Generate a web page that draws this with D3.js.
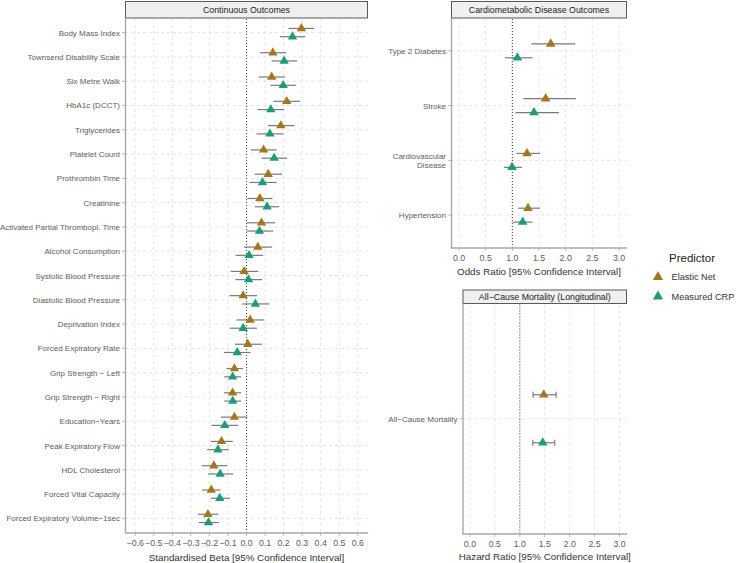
<!DOCTYPE html>
<html>
<head>
<meta charset="utf-8">
<script src="https://cdn.jsdelivr.net/npm/d3@7/dist/d3.min.js"></script>
<style>
  html, body { margin: 0; padding: 0; background: #fff; }
  svg { display: block; font-family: "Liberation Sans", Arial, sans-serif; }
</style>
</head>
<body>
<svg id="chart" width="739" height="563"></svg>
<script>
// ---------------- DATA ----------------
const predictors = ["Elastic Net", "Measured CRP"];
const predictorColors = ["#A6761D", "#1B9E77"];

const contOutcomes = [
  "Body Mass Index", "Townsend Disability Scale", "Six Metre Walk", "HbA1c (DCCT)",
  "Triglycerides", "Platelet Count", "Prothrombin Time", "Creatinine",
  "Activated Partial Thrombopl. Time", "Alcohol Consumption", "Systolic Blood Pressure",
  "Diastolic Blood Pressure", "Deprivation Index", "Forced Expiratory Rate",
  "Grip Strength \u2212 Left", "Grip Strength \u2212 Right", "Education\u2212Years",
  "Peak Expiratory Flow", "HDL Cholesterol", "Forced Vital Capacity",
  "Forced Expiratory Volume\u22121sec"
];
const contEN    = [0.296, 0.142, 0.136, 0.217, 0.185, 0.092, 0.117, 0.072, 0.081, 0.061, -0.013, -0.018, 0.020, 0.007, -0.065, -0.075, -0.065, -0.135, -0.176, -0.190, -0.208];
const contENLo  = [0.226, 0.072, 0.066, 0.145, 0.115, 0.023, 0.045, 0.004, 0.002, -0.014, -0.086, -0.092, -0.054, -0.063, -0.108, -0.122, -0.138, -0.192, -0.242, -0.239, -0.262];
const contENHi  = [0.365, 0.214, 0.208, 0.289, 0.259, 0.163, 0.192, 0.140, 0.154, 0.138, 0.063, 0.057, 0.093, 0.083, -0.018, -0.029, 0.005, -0.074, -0.104, -0.140, -0.153];
const contCRP   = [0.248, 0.203, 0.198, 0.131, 0.126, 0.149, 0.086, 0.111, 0.070, 0.014, 0.011, 0.048, -0.018, -0.050, -0.075, -0.074, -0.117, -0.154, -0.142, -0.144, -0.205];
const contCRPLo = [0.180, 0.135, 0.129, 0.059, 0.054, 0.081, 0.016, 0.045, 0.002, -0.059, -0.059, -0.023, -0.090, -0.122, -0.120, -0.120, -0.189, -0.212, -0.208, -0.192, -0.257];
const contCRPHi = [0.316, 0.273, 0.266, 0.203, 0.198, 0.219, 0.162, 0.176, 0.144, 0.090, 0.084, 0.122, 0.056, 0.022, -0.029, -0.029, -0.045, -0.095, -0.072, -0.090, -0.149];
const contTicks = [-0.6, -0.5, -0.4, -0.3, -0.2, -0.1, 0.0, 0.1, 0.2, 0.3, 0.4, 0.5, 0.6];

const cardioOutcomes = ["Type 2 Diabetes", "Stroke", "Cardiovascular\nDisease", "Hypertension"];
const cardioEN    = [1.720, 1.625, 1.275, 1.294];
const cardioENLo  = [1.356, 1.206, 1.075, 1.110];
const cardioENHi  = [2.180, 2.190, 1.520, 1.520];
const cardioCRP   = [1.094, 1.406, 0.994, 1.194];
const cardioCRPLo = [0.860, 1.060, 0.844, 1.006];
const cardioCRPHi = [1.380, 1.875, 1.180, 1.380];

const mortOutcomes = ["All\u2212Cause Mortality"];
const mortEN    = [1.48];
const mortENLo  = [1.267];
const mortENHi  = [1.727];
const mortCRP   = [1.46];
const mortCRPLo = [1.26];
const mortCRPHi = [1.70];

const ratioTicks = [0.0, 0.5, 1.0, 1.5, 2.0, 2.5, 3.0];

// ---------------- DRAW ----------------
const svg = d3.select("#chart");
const fmt = d => (d < 0 ? "\u2212" : "") + d3.format(".1f")(Math.abs(d));

function drawPanel(cfg) {
  const g = svg.append("g");
  const x = d3.scaleLinear().domain(cfg.xDomain).range([cfg.x0, cfg.x1]);
  const y = d3.scalePoint().domain(cfg.cats).range([cfg.y0, cfg.y1]).padding(0.6);
  const step = y.step();
  const dodge = step * cfg.dodge;

  // strip
  g.append("rect").attr("x", cfg.x0 + 0.5).attr("y", cfg.stripY0 + 0.5)
    .attr("width", cfg.x1 - cfg.x0 - 1).attr("height", cfg.y0 - cfg.stripY0 - 0.5)
    .attr("fill", "#f0f0f0").attr("stroke", "#595959").attr("stroke-width", 1);
  g.append("text").attr("x", (cfg.x0 + cfg.x1) / 2).attr("y", (cfg.stripY0 + cfg.y0) / 2 + 0.5)
    .attr("text-anchor", "middle").attr("dominant-baseline", "central")
    .attr("font-size", "8.8px").attr("fill", "#1a1a1a").text(cfg.title);

  // grid
  g.selectAll(".vg").data(cfg.ticks).join("line")
    .attr("x1", d => x(d)).attr("x2", d => x(d)).attr("y1", cfg.y0 + 1).attr("y2", cfg.y1)
    .attr("stroke", "#dedede").attr("stroke-width", 0.8).attr("stroke-dasharray", "3,3");
  g.selectAll(".hg").data(cfg.cats).join("line")
    .attr("x1", cfg.x0).attr("x2", cfg.x1).attr("y1", d => y(d)).attr("y2", d => y(d))
    .attr("stroke", "#dedede").attr("stroke-width", 0.8).attr("stroke-dasharray", "3,3");

  // reference line
  g.append("line").attr("x1", x(cfg.ref)).attr("x2", x(cfg.ref))
    .attr("y1", cfg.y0 + 1).attr("y2", cfg.y1)
    .attr("stroke", "#444").attr("stroke-width", 1).attr("stroke-dasharray", "1,2");

  // axes lines
  g.append("line").attr("x1", cfg.x0 + 0.5).attr("x2", cfg.x0 + 0.5).attr("y1", cfg.y0).attr("y2", cfg.y1 + 0.5)
    .attr("stroke", "#a8a8a8").attr("stroke-width", 1.4);
  g.append("line").attr("x1", cfg.x0).attr("x2", cfg.x1).attr("y1", cfg.y1).attr("y2", cfg.y1)
    .attr("stroke", "#a8a8a8").attr("stroke-width", 1.4);

  // x ticks
  g.selectAll(".xt").data(cfg.ticks).join("line")
    .attr("x1", d => x(d)).attr("x2", d => x(d)).attr("y1", cfg.y1).attr("y2", cfg.y1 + 3)
    .attr("stroke", "#a8a8a8").attr("stroke-width", 0.8);
  g.selectAll(".xl").data(cfg.ticks).join("text")
    .attr("x", d => x(d)).attr("y", cfg.tickY)
    .attr("text-anchor", "middle").attr("dominant-baseline", "central")
    .attr("font-size", "8.8px").attr("fill", "#5c5c5c").text(fmt);

  // y ticks & labels
  g.selectAll(".yt").data(cfg.cats).join("line")
    .attr("x1", cfg.x0 - 3).attr("x2", cfg.x0).attr("y1", d => y(d)).attr("y2", d => y(d))
    .attr("stroke", "#a8a8a8").attr("stroke-width", 0.8);
  g.selectAll(".yl").data(cfg.cats).join("text")
    .attr("x", cfg.x0 - 5).attr("y", d => y(d))
    .attr("text-anchor", "end").attr("font-size", "8px").attr("fill", "#5c5c5c")
    .each(function (d) {
      const lines = d.split("\n");
      const t = d3.select(this);
      lines.forEach((ln, i) => {
        t.append("tspan").attr("x", cfg.x0 - 5)
          .attr("dy", i === 0 ? ((-(lines.length - 1) / 2) * 9.5 + 3) + "px" : "9.5px")
          .text(ln);
      });
    });

  // axis title
  g.append("text").attr("x", (cfg.x0 + cfg.x1) / 2).attr("y", cfg.titleY)
    .attr("text-anchor", "middle").attr("dominant-baseline", "central")
    .attr("font-size", "9.8px").attr("fill", "#333").text(cfg.xTitle);

  // data
  const series = [
    { est: cfg.en, lo: cfg.enLo, hi: cfg.enHi, color: predictorColors[0], off: -dodge },
    { est: cfg.crp, lo: cfg.crpLo, hi: cfg.crpHi, color: predictorColors[1], off: dodge }
  ];
  const tri = d3.symbol().type(d3.symbolTriangle).size(cfg.symSize);
  series.forEach(s => {
    const rows = cfg.cats.map((c, i) => ({ c, est: s.est[i], lo: s.lo[i], hi: s.hi[i] }));
    const eg = g.append("g");
    eg.selectAll("line.bar").data(rows).join("line")
      .attr("x1", d => x(d.lo)).attr("x2", d => x(d.hi))
      .attr("y1", d => y(d.c) + s.off).attr("y2", d => y(d.c) + s.off)
      .attr("stroke", "#7a7a7a").attr("stroke-width", 1.2);
    if (cfg.caps) {
      ["lo", "hi"].forEach(k => {
        eg.selectAll("line.cap" + k).data(rows).join("line")
          .attr("x1", d => x(d[k])).attr("x2", d => x(d[k]))
          .attr("y1", d => y(d.c) + s.off - cfg.caps).attr("y2", d => y(d.c) + s.off + cfg.caps)
          .attr("stroke", "#7a7a7a").attr("stroke-width", 1.2);
      });
    }
    eg.selectAll("path").data(rows).join("path")
      .attr("d", tri)
      .attr("transform", d => `translate(${x(d.est)},${y(d.c) + s.off})`)
      .attr("fill", s.color);
  });
}

drawPanel({
  x0: 125, x1: 368, y0: 18, y1: 533, stripY0: 1,
  xDomain: [-0.655, 0.655], ticks: contTicks, ref: 0,
  cats: contOutcomes, title: "Continuous Outcomes",
  xTitle: "Standardised Beta [95% Confidence Interval]", tickY: 543, titleY: 557,
  en: contEN, enLo: contENLo, enHi: contENHi, crp: contCRP, crpLo: contCRPLo, crpHi: contCRPHi,
  dodge: 0.17, caps: 0, symSize: 38
});

drawPanel({
  x0: 451, x1: 627, y0: 18, y1: 248, stripY0: 1,
  xDomain: [-0.15, 3.15], ticks: ratioTicks, ref: 1,
  cats: cardioOutcomes, title: "Cardiometabolic Disease Outcomes",
  xTitle: "Odds Ratio [95% Confidence Interval]", tickY: 258, titleY: 271.5,
  en: cardioEN, enLo: cardioENLo, enHi: cardioENHi, crp: cardioCRP, crpLo: cardioCRPLo, crpHi: cardioCRPHi,
  dodge: 0.127, caps: 0, symSize: 40
});

drawPanel({
  x0: 462.5, x1: 627, y0: 303.5, y1: 534, stripY0: 289.5,
  xDomain: [-0.15, 3.15], ticks: ratioTicks, ref: 1,
  cats: mortOutcomes, title: "All\u2212Cause Mortality (Longitudinal)",
  xTitle: "Hazard Ratio [95% Confidence Interval]", tickY: 543.5, titleY: 556.5,
  en: mortEN, enLo: mortENLo, enHi: mortENHi, crp: mortCRP, crpLo: mortCRPLo, crpHi: mortCRPHi,
  dodge: 0.125, caps: 3, symSize: 40
});

// legend
const lg = svg.append("g");
lg.append("text").attr("x", 669).attr("y", 257.5).attr("dominant-baseline", "central")
  .attr("font-size", "11.5px").attr("fill", "#1a1a1a").text("Predictor");
const tri = d3.symbol().type(d3.symbolTriangle).size(45);
predictors.forEach((p, i) => {
  const yy = 277 + i * 19.5;
  lg.append("path").attr("d", tri).attr("transform", `translate(658,${yy})`).attr("fill", predictorColors[i]);
  lg.append("text").attr("x", 671.5).attr("y", yy).attr("dominant-baseline", "central")
    .attr("font-size", "9.2px").attr("fill", "#333").text(p);
});
</script>
</body>
</html>
